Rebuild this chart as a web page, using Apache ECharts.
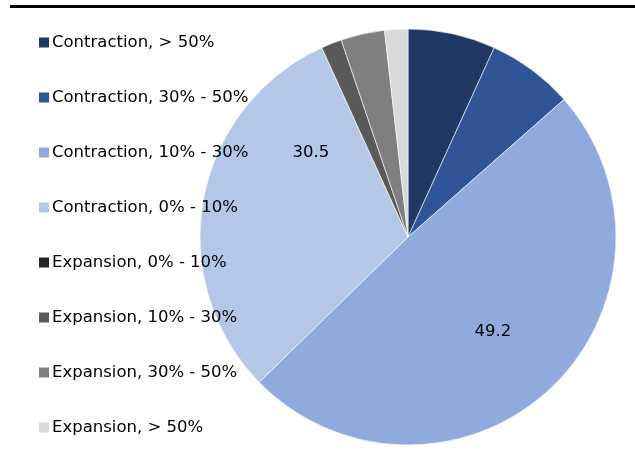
<!DOCTYPE html>
<html>
<head>
<meta charset="utf-8">
<script src="https://cdn.jsdelivr.net/npm/echarts@6/dist/echarts.min.js"></script>
<style>
  html, body { margin: 0; padding: 0; background: #fff; }
  #chart { width: 635px; height: 455px; }
</style>
</head>
<body>
<div id="chart"></div>
<script>
// Share of cases by change bucket (%)
const categories = [
  'Contraction, > 50%',
  'Contraction, 30% - 50%',
  'Contraction, 10% - 30%',
  'Contraction, 0% - 10%',
  'Expansion, 0% - 10%',
  'Expansion, 10% - 30%',
  'Expansion, 30% - 50%',
  'Expansion, > 50%'
];
const values = [6.8, 6.7, 49.2, 30.5, 0, 1.6, 3.4, 1.8];
const colors = ['#1F3864', '#2F5597', '#8FAADC', '#B4C7E7', '#262626', '#595959', '#7F7F7F', '#D9D9D9'];
// only the two largest buckets carry a value label
const labelled = [false, false, true, true, false, false, false, false];

const FONT = 'DejaVu Sans';

const chart = echarts.init(document.getElementById('chart'), null, { renderer: 'canvas' });

chart.setOption({
  animation: false,
  color: colors,
  graphic: [{
    type: 'rect',
    shape: { x: 10, y: 5, width: 625, height: 3 },
    style: { fill: '#000' },
    silent: true
  }],
  legend: {
    orient: 'vertical',
    left: 32,
    top: 29,
    padding: 5,
    itemWidth: 12,
    itemHeight: 12,
    itemGap: 38,
    icon: 'rect',
    selectedMode: false,
    data: categories,
    textStyle: { fontFamily: FONT, fontSize: 16.5, color: '#000', lineHeight: 17, padding: [0, 0, 0, -3] }
  },
  series: [{
    type: 'pie',
    center: [408, 237],
    radius: [0, 208],
    startAngle: 90,
    clockwise: true,
    avoidLabelOverlap: false,
    itemStyle: { borderColor: '#fff', borderWidth: 0.6 },
    label: {
      show: true,
      position: 'inside',
      fontFamily: FONT,
      fontSize: 16.5,
      color: '#000',
      formatter: p => labelled[p.dataIndex] ? p.value.toFixed(1) : ''
    },
    labelLine: { show: false },
    labelLayout: function (p) {
      if (p.dataIndex === 3) return { dx: 8, dy: -65 };
      if (p.dataIndex === 2) return { dx: 12, dy: 16 };
      return {};
    },
    data: categories.map((name, i) => ({ name: name, value: values[i] }))
  }]
});
</script>
</body>
</html>
